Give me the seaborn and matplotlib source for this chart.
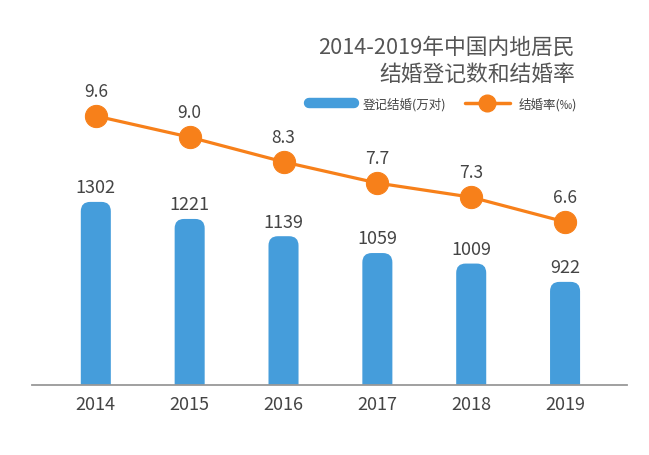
import matplotlib
matplotlib.use("Agg")
import matplotlib.pyplot as plt
import seaborn as sns
from matplotlib.patches import FancyBboxPatch
from matplotlib.lines import Line2D

years = ["2014", "2015", "2016", "2017", "2018", "2019"]
marriages = [1302, 1221, 1139, 1059, 1009, 922]   # 登记结婚(万对)
rates = [9.6, 9.0, 8.3, 7.7, 7.3, 6.6]            # 结婚率(‰)

BLUE = "#459ddb"
ORANGE = "#f7801a"
TXT = "#444444"


def main():
    sns.set_style("white")
    plt.rcParams['font.family'] = ['Noto Sans CJK SC', 'DejaVu Sans']

    fig = plt.figure(figsize=(6.49, 4.56), dpi=100)
    ax = fig.add_axes([32 / 649, 70 / 456, 595 / 649, 346 / 456])

    sns.barplot(x=years, y=marriages, ax=ax, color=BLUE, width=0.32,
                saturation=1)
    ax.set_xlim(-0.68, 5.66)
    ax.set_ylim(432, 2076)

    # labels first, then swap bars for rounded-top ones
    ax.bar_label(ax.containers[0], padding=4, fontsize=13, color=TXT)

    # aspect between data units in y and x per pixel
    x_per_px = (5.66 + 0.68) / 595
    y_per_px = (2076 - 432) / 346
    asp = y_per_px / x_per_px
    for p in list(ax.patches):
        x, w, h = p.get_x(), p.get_width(), p.get_height()
        rb = FancyBboxPatch((x, -200), w, h + 200,
                            boxstyle="round,pad=0,rounding_size=0.1",
                            mutation_aspect=asp, facecolor=BLUE,
                            edgecolor="none", zorder=2)
        p.remove()
        ax.add_patch(rb)

    ax2 = ax.twinx()
    sns.lineplot(x=list(range(len(years))), y=rates, ax=ax2, color=ORANGE,
                 linewidth=2.3, marker="o", markersize=16,
                 markeredgecolor=ORANGE, zorder=3)
    ax2.set_ylim(1.98, 11.78)
    ax2.set_xlim(-0.68, 5.66)
    for i, v in enumerate(rates):
        ax2.annotate(f"{v:.1f}", (i, v), xytext=(0, 18),
                     textcoords="offset points", ha="center", va="center",
                     fontsize=12.5, color=TXT)

    for a in (ax, ax2):
        for s in ("top", "right", "left"):
            a.spines[s].set_visible(False)
        a.set_ylabel("")
        a.set_yticks([])
    ax2.spines["bottom"].set_visible(False)
    ax.spines["bottom"].set_color("#999999")
    ax.spines["bottom"].set_linewidth(1.3)
    ax.tick_params(axis="x", length=0, labelsize=13, labelcolor=TXT, pad=7)

    fig.text(575 / 649, 1 - 48 / 456, "2014-2019年中国内地居民",
             ha="right", va="center", fontsize=15.7, color="#555555")
    fig.text(575 / 649, 1 - 75 / 456, "结婚登记数和结婚率",
             ha="right", va="center", fontsize=15.7, color="#555555")

    handles = [
        Line2D([], [], color=BLUE, lw=7.5, solid_capstyle="round"),
        Line2D([], [], color=ORANGE, lw=2.5, marker="o", markersize=12),
    ]
    fig.legend(handles, ["登记结婚(万对)", "结婚率(‰)"], ncol=2,
               loc="center right", bbox_to_anchor=(588 / 649, 1 - 105 / 456),
               frameon=False, fontsize=9, handlelength=3.6, handletextpad=0.7,
               columnspacing=1.5, labelcolor=TXT)

    fig.savefig("out.png", dpi=100)


if __name__ == "__main__":
    main()
